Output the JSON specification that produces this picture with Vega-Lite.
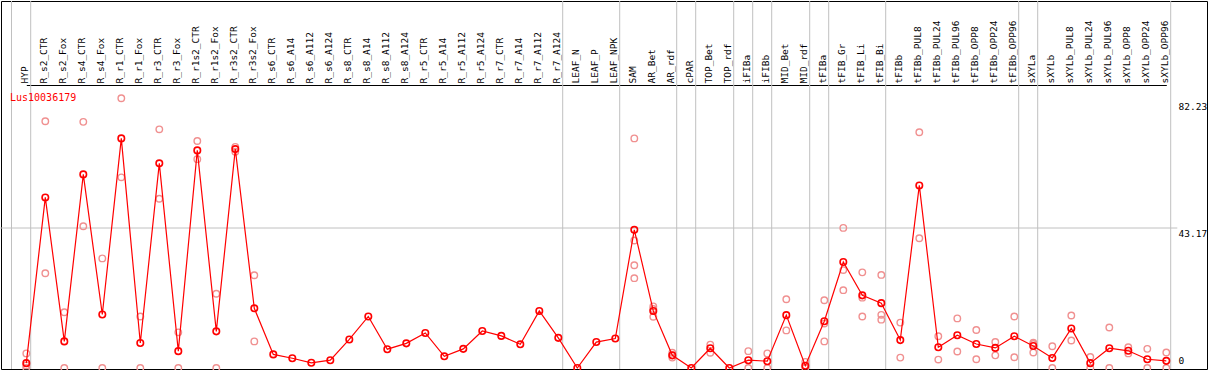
{
  "$schema": "https://vega.github.io/schema/vega-lite/v6.json",
  "autosize": "none",
  "width": 1206,
  "height": 368,
  "padding": {"left": 1, "top": 1, "right": 2, "bottom": 1},
  "background": "white",
  "config": {
    "view": {"stroke": "#000000", "strokeWidth": 1},
    "font": "DejaVu Sans Mono"
  },
  "title": {
    "text": "Lus10036179",
    "orient": "top",
    "anchor": "start",
    "frame": "group",
    "baseline": "middle",
    "offset": -107,
    "dx": 9,
    "color": "#ff0000",
    "font": "DejaVu Sans Mono",
    "fontSize": 10,
    "fontWeight": "normal"
  },
  "datasets": {
    "means": [
      {"sample": "HYP", "value": 1.5},
      {"sample": "R_s2_CTR", "value": 52.6},
      {"sample": "R_s2_Fox", "value": 8.2},
      {"sample": "R_s4_CTR", "value": 59.7},
      {"sample": "R_s4_Fox", "value": 16.5},
      {"sample": "R_r1_CTR", "value": 70.8},
      {"sample": "R_r1_Fox", "value": 7.7},
      {"sample": "R_r3_CTR", "value": 63.1},
      {"sample": "R_r3_Fox", "value": 5.2},
      {"sample": "R_r1s2_CTR", "value": 67.1},
      {"sample": "R_r1s2_Fox", "value": 11.3},
      {"sample": "R_r3s2_CTR", "value": 67.5},
      {"sample": "R_r3s2_Fox", "value": 18.4},
      {"sample": "R_s6_CTR", "value": 4.2},
      {"sample": "R_s6_A14", "value": 3.0},
      {"sample": "R_s6_A112", "value": 1.6},
      {"sample": "R_s6_A124", "value": 2.4},
      {"sample": "R_s8_CTR", "value": 8.8},
      {"sample": "R_s8_A14", "value": 15.9},
      {"sample": "R_s8_A112", "value": 5.8},
      {"sample": "R_s8_A124", "value": 7.6},
      {"sample": "R_r5_CTR", "value": 10.8},
      {"sample": "R_r5_A14", "value": 3.6},
      {"sample": "R_r5_A112", "value": 5.9},
      {"sample": "R_r5_A124", "value": 11.4},
      {"sample": "R_r7_CTR", "value": 9.9},
      {"sample": "R_r7_A14", "value": 7.3},
      {"sample": "R_r7_A112", "value": 17.6},
      {"sample": "R_r7_A124", "value": 9.3},
      {"sample": "LEAF_N", "value": 0},
      {"sample": "LEAF_P", "value": 8.0},
      {"sample": "LEAF_NPK", "value": 9.1},
      {"sample": "SAM", "value": 42.6},
      {"sample": "AR_Bet", "value": 17.6},
      {"sample": "AR_rdf", "value": 3.9},
      {"sample": "cPAR", "value": 0},
      {"sample": "TOP_Bet", "value": 6.1},
      {"sample": "TOP_rdf", "value": 0},
      {"sample": "iFIBa", "value": 2.4},
      {"sample": "iFIBb", "value": 2.1},
      {"sample": "MID_Bet", "value": 16.3},
      {"sample": "MID_rdf", "value": 0.7},
      {"sample": "tFIBa", "value": 14.4},
      {"sample": "tFIB_Gr", "value": 32.7},
      {"sample": "tFIB_Li", "value": 22.4},
      {"sample": "tFIB_Bi", "value": 20.0},
      {"sample": "tFIBb", "value": 8.6},
      {"sample": "tFIBb_PUL8", "value": 56.3},
      {"sample": "tFIBb_PUL24", "value": 6.4},
      {"sample": "tFIBb_PUL96", "value": 10.1},
      {"sample": "tFIBb_OPP8", "value": 7.4},
      {"sample": "tFIBb_OPP24", "value": 6.2},
      {"sample": "tFIBb_OPP96", "value": 9.8},
      {"sample": "sXYLa", "value": 6.8},
      {"sample": "sXYLb", "value": 3.1},
      {"sample": "sXYLb_PUL8", "value": 12.2},
      {"sample": "sXYLb_PUL24", "value": 1.5},
      {"sample": "sXYLb_PUL96", "value": 6.1},
      {"sample": "sXYLb_OPP8", "value": 5.3},
      {"sample": "sXYLb_OPP24", "value": 2.7},
      {"sample": "sXYLb_OPP96", "value": 2.2}
    ],
    "reps": [
      {"sample": "HYP", "value": 4.5}, {"sample": "HYP", "value": 0.8}, {"sample": "HYP", "value": 0},
      {"sample": "R_s2_CTR", "value": 76.1}, {"sample": "R_s2_CTR", "value": 29.2},
      {"sample": "R_s2_Fox", "value": 17.2}, {"sample": "R_s2_Fox", "value": 0},
      {"sample": "R_s4_CTR", "value": 75.9}, {"sample": "R_s4_CTR", "value": 43.7},
      {"sample": "R_s4_Fox", "value": 33.8}, {"sample": "R_s4_Fox", "value": 0},
      {"sample": "R_r1_CTR", "value": 83.2}, {"sample": "R_r1_CTR", "value": 58.8},
      {"sample": "R_r1_Fox", "value": 15.9}, {"sample": "R_r1_Fox", "value": 0},
      {"sample": "R_r3_CTR", "value": 73.6}, {"sample": "R_r3_CTR", "value": 52.2},
      {"sample": "R_r3_Fox", "value": 11.0}, {"sample": "R_r3_Fox", "value": 0},
      {"sample": "R_r1s2_CTR", "value": 70.0}, {"sample": "R_r1s2_CTR", "value": 64.4},
      {"sample": "R_r1s2_Fox", "value": 22.9}, {"sample": "R_r1s2_Fox", "value": 0},
      {"sample": "R_r3s2_CTR", "value": 68.2}, {"sample": "R_r3s2_CTR", "value": 66.7},
      {"sample": "R_r3s2_Fox", "value": 28.6}, {"sample": "R_r3s2_Fox", "value": 8.2},
      {"sample": "SAM", "value": 70.8}, {"sample": "SAM", "value": 39.3}, {"sample": "SAM", "value": 31.7}, {"sample": "SAM", "value": 27.7},
      {"sample": "AR_Bet", "value": 19.0}, {"sample": "AR_Bet", "value": 18.2}, {"sample": "AR_Bet", "value": 15.8},
      {"sample": "AR_rdf", "value": 4.7}, {"sample": "AR_rdf", "value": 3.9}, {"sample": "AR_rdf", "value": 3.2},
      {"sample": "TOP_Bet", "value": 7.2}, {"sample": "TOP_Bet", "value": 4.7},
      {"sample": "iFIBa", "value": 5.2}, {"sample": "iFIBa", "value": 0},
      {"sample": "iFIBb", "value": 4.5}, {"sample": "iFIBb", "value": 0},
      {"sample": "MID_Bet", "value": 21.2}, {"sample": "MID_Bet", "value": 11.6},
      {"sample": "MID_rdf", "value": 1.9}, {"sample": "MID_rdf", "value": 0},
      {"sample": "tFIBa", "value": 20.9}, {"sample": "tFIBa", "value": 13.7}, {"sample": "tFIBa", "value": 8.2},
      {"sample": "tFIB_Gr", "value": 43.2}, {"sample": "tFIB_Gr", "value": 30.2}, {"sample": "tFIB_Gr", "value": 24.0},
      {"sample": "tFIB_Li", "value": 29.5}, {"sample": "tFIB_Li", "value": 21.7}, {"sample": "tFIB_Li", "value": 15.9},
      {"sample": "tFIB_Bi", "value": 28.7}, {"sample": "tFIB_Bi", "value": 16.4}, {"sample": "tFIB_Bi", "value": 14.9},
      {"sample": "tFIBb", "value": 14.0}, {"sample": "tFIBb", "value": 3.2},
      {"sample": "tFIBb_PUL8", "value": 72.7}, {"sample": "tFIBb_PUL8", "value": 40.0},
      {"sample": "tFIBb_PUL24", "value": 9.8}, {"sample": "tFIBb_PUL24", "value": 2.6},
      {"sample": "tFIBb_PUL96", "value": 15.3}, {"sample": "tFIBb_PUL96", "value": 5.1},
      {"sample": "tFIBb_OPP8", "value": 11.7}, {"sample": "tFIBb_OPP8", "value": 2.7},
      {"sample": "tFIBb_OPP24", "value": 8.0}, {"sample": "tFIBb_OPP24", "value": 3.9},
      {"sample": "tFIBb_OPP96", "value": 15.9}, {"sample": "tFIBb_OPP96", "value": 3.3},
      {"sample": "sXYLa", "value": 7.8}, {"sample": "sXYLa", "value": 7.4}, {"sample": "sXYLa", "value": 4.8},
      {"sample": "sXYLb", "value": 6.7}, {"sample": "sXYLb", "value": 0},
      {"sample": "sXYLb_PUL8", "value": 16.2}, {"sample": "sXYLb_PUL8", "value": 8.5},
      {"sample": "sXYLb_PUL24", "value": 3.4}, {"sample": "sXYLb_PUL24", "value": 0},
      {"sample": "sXYLb_PUL96", "value": 12.5}, {"sample": "sXYLb_PUL96", "value": 0},
      {"sample": "sXYLb_OPP8", "value": 6.4}, {"sample": "sXYLb_OPP8", "value": 4.5},
      {"sample": "sXYLb_OPP24", "value": 5.9}, {"sample": "sXYLb_OPP24", "value": 0},
      {"sample": "sXYLb_OPP96", "value": 4.8}, {"sample": "sXYLb_OPP96", "value": 0}
    ],
    "seps": [
      {"sample": "HYP"}, {"sample": "R_r7_A124"}, {"sample": "LEAF_NPK"}, {"sample": "AR_rdf"},
      {"sample": "cPAR"}, {"sample": "TOP_rdf"}, {"sample": "iFIBa"}, {"sample": "iFIBb"},
      {"sample": "MID_rdf"}, {"sample": "tFIBa"}, {"sample": "tFIB_Bi"}, {"sample": "tFIBb_OPP96"},
      {"sample": "sXYLa"}, {"sample": "sXYLb_OPP96"}
    ],
    "first": [{"sample": "HYP"}]
  },
  "encoding": {
    "x": {
      "field": "sample",
      "type": "nominal",
      "scale": {
        "type": "point",
        "domain": ["HYP","R_s2_CTR","R_s2_Fox","R_s4_CTR","R_s4_Fox","R_r1_CTR","R_r1_Fox","R_r3_CTR","R_r3_Fox","R_r1s2_CTR","R_r1s2_Fox","R_r3s2_CTR","R_r3s2_Fox","R_s6_CTR","R_s6_A14","R_s6_A112","R_s6_A124","R_s8_CTR","R_s8_A14","R_s8_A112","R_s8_A124","R_r5_CTR","R_r5_A14","R_r5_A112","R_r5_A124","R_r7_CTR","R_r7_A14","R_r7_A112","R_r7_A124","LEAF_N","LEAF_P","LEAF_NPK","SAM","AR_Bet","AR_rdf","cPAR","TOP_Bet","TOP_rdf","iFIBa","iFIBb","MID_Bet","MID_rdf","tFIBa","tFIB_Gr","tFIB_Li","tFIB_Bi","tFIBb","tFIBb_PUL8","tFIBb_PUL24","tFIBb_PUL96","tFIBb_OPP8","tFIBb_OPP24","tFIBb_OPP96","sXYLa","sXYLb","sXYLb_PUL8","sXYLb_PUL24","sXYLb_PUL96","sXYLb_OPP8","sXYLb_OPP24","sXYLb_OPP96"],
        "padding": 0,
        "range": [25.3, 1165.3]
      },
      "axis": {
        "orient": "top",
        "offset": -84,
        "title": null,
        "labelAngle": -90,
        "labelAlign": "left",
        "labelBaseline": "middle",
        "labelPadding": 2,
        "labelOffset": -2,
        "labelFont": "DejaVu Sans Mono",
        "labelFontSize": 9.5,
        "labelColor": "#000000",
        "labelOverlap": false,
        "labelBound": false,
        "labelFlush": false,
        "ticks": false,
        "grid": false,
        "domain": true,
        "domainColor": "#000000",
        "domainWidth": 1
      }
    }
  },
  "layer": [
    {
      "data": {"name": "seps"},
      "mark": {"type": "rule", "color": "#c0c0c0", "strokeWidth": 1, "xOffset": 4.4},
      "encoding": {"x": {"field": "sample", "type": "nominal"}}
    },
    {
      "data": {"name": "first"},
      "mark": {"type": "rule", "color": "#c0c0c0", "strokeWidth": 1, "xOffset": -14.8},
      "encoding": {"x": {"field": "sample", "type": "nominal"}}
    },
    {
      "data": {"name": "first"},
      "mark": {"type": "rule", "color": "#c0c0c0", "strokeWidth": 1, "xOffset": -26, "x2Offset": 11},
      "encoding": {
        "x": {"datum": "HYP"},
        "x2": {"datum": "sXYLb_OPP96"},
        "y": {"datum": 43.17, "type": "quantitative"}
      }
    },
    {
      "data": {"name": "reps"},
      "mark": {"type": "point", "shape": "circle", "filled": false, "color": "#f09090", "size": 42, "strokeWidth": 1.4, "opacity": 1},
      "encoding": {
        "y": {"field": "value", "type": "quantitative"}
      }
    },
    {
      "data": {"name": "means"},
      "mark": {"type": "line", "color": "#ff0000", "strokeWidth": 1.2},
      "encoding": {
        "y": {"field": "value", "type": "quantitative"}
      }
    },
    {
      "data": {"name": "means"},
      "mark": {"type": "point", "shape": "circle", "filled": false, "color": "#ff0000", "size": 42, "strokeWidth": 1.6, "opacity": 1},
      "encoding": {
        "y": {
          "field": "value",
          "type": "quantitative",
          "scale": {"domain": [-0.308, 113.17], "nice": false, "zero": false},
          "axis": {
            "orient": "right",
            "offset": -29,
            "values": [0, 43.17, 82.23],
            "format": ".2~f",
            "title": null,
            "grid": false,
            "ticks": false,
            "domain": false,
            "labelAlign": "left",
            "labelBaseline": {"condition": {"test": "datum.value < 1", "value": "bottom"}, "value": "top"},
            "labelOffset": {"condition": {"test": "datum.value < 1", "value": -3}, "value": 0},
            "labelPadding": 0,
            "labelFont": "DejaVu Sans Mono",
            "labelFontSize": 9.5,
            "labelColor": "#000000",
            "labelFlush": false,
            "labelOverlap": false,
            "labelBound": false
          }
        }
      }
    }
  ],
  "resolve": {"scale": {"y": "shared"}}
}
